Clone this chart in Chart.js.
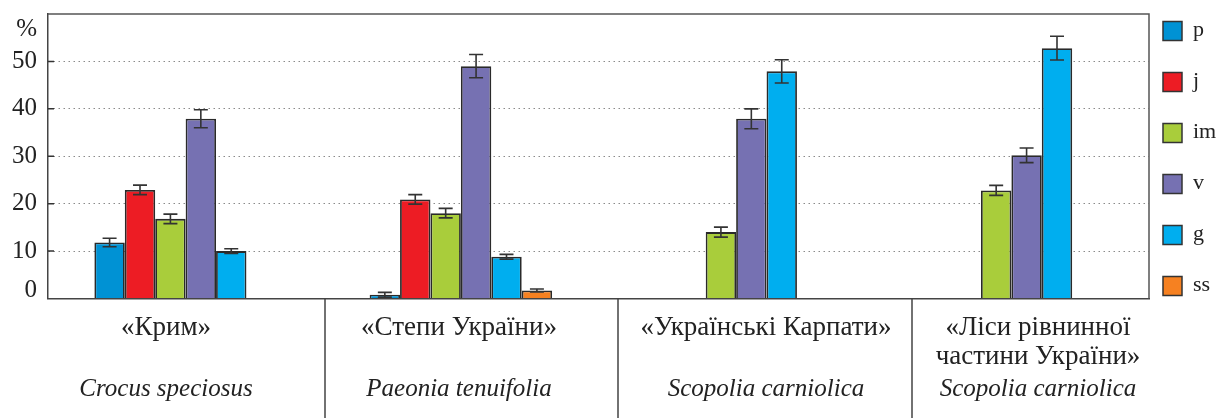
<!DOCTYPE html>
<html>
<head>
<meta charset="utf-8">
<script src="https://cdn.jsdelivr.net/npm/chart.js@4"></script>
<style>
  html, body { margin: 0; padding: 0; background: #fff; }
  #wrap { width: 1222px; height: 418px; position: relative; }
</style>
</head>
<body>
<div id="wrap"><canvas id="myChart"></canvas></div>
<script>
// categories
const regions = ['«Крим»', '«Степи України»', '«Українські Карпати»', ['«Ліси рівнинної', 'частини України»']];
const species = ['Crocus speciosus', 'Paeonia tenuifolia', 'Scopolia carniolica', 'Scopolia carniolica'];

// series (%), with error half-widths
const seriesNames = ['p', 'j', 'im', 'v', 'g', 'ss'];
const pValues  = [11.8, 0.8, null, null];
const jValues  = [22.9, 20.9, null, null];
const imValues = [16.8, 18.0, 14.0, 22.8];
const vValues  = [37.9, 49.0, 37.9, 30.2];
const gValues  = [10.0, 8.8, 47.9, 52.8];
const ssValues = [null, 1.7, null, null];

const pErr  = [0.9, 0.5, 0, 0];
const jErr  = [1.0, 1.0, 0, 0];
const imErr = [1.0, 1.0, 1.05, 1.05];
const vErr  = [1.9, 2.45, 2.1, 1.55];
const gErr  = [0.5, 0.5, 2.45, 2.5];
const ssErr = [0, 0.3, 0, 0];

const yTicks = [0, 10, 20, 30, 40, 50];
const yMax = 60;

const colors = ['#0092d4', '#ed1c24', '#a9cd3b', '#7671b2', '#00aeef', '#f68121'];
const allValues = [pValues, jValues, imValues, vValues, gValues, ssValues];
const allErr = [pErr, jErr, imErr, vErr, gErr, ssErr];

const serif = '"Liberation Serif", "DejaVu Serif", serif';

// error bars on top of each bar
const errorBars = {
    id: 'errorBars',
    afterDatasetsDraw(chart) {
        const ctx = chart.ctx;
        const y = chart.scales.y;
        ctx.save();
        ctx.strokeStyle = '#333';
        ctx.lineWidth = 1.6;
        chart.data.datasets.forEach((ds, i) => {
            const meta = chart.getDatasetMeta(i);
            meta.data.forEach((bar, j) => {
                const v = ds.data[j];
                const e = allErr[i][j];
                if (v == null || !e) return;
                const top = y.getPixelForValue(v + e);
                const bot = y.getPixelForValue(v - e);
                ctx.beginPath();
                ctx.moveTo(bar.x, top); ctx.lineTo(bar.x, bot);
                ctx.moveTo(bar.x - 7, top); ctx.lineTo(bar.x + 7, top);
                ctx.moveTo(bar.x - 7, bot); ctx.lineTo(bar.x + 7, bot);
                ctx.stroke();
            });
        });
        ctx.restore();
    }
};

// frame, table below the axis, legend, extra labels
const decorations = {
    id: 'decorations',
    afterDraw(chart) {
        const ctx = chart.ctx;
        const a = chart.chartArea;
        const y = chart.scales.y;
        ctx.save();

        // frame top + right
        ctx.strokeStyle = '#555';
        ctx.lineWidth = 1.5;
        ctx.beginPath();
        ctx.moveTo(a.left, a.top); ctx.lineTo(a.right, a.top); ctx.lineTo(a.right, a.bottom);
        ctx.stroke();

        // short tick marks inside the axis
        ctx.strokeStyle = '#333';
        ctx.beginPath();
        [10, 20, 30, 40, 50].forEach(t => {
            const py = y.getPixelForValue(t);
            ctx.moveTo(a.left, py); ctx.lineTo(a.left + 6, py);
        });
        ctx.stroke();

        // "%" and "0" labels
        ctx.fillStyle = '#222';
        ctx.font = '25px ' + serif;
        ctx.textAlign = 'right';
        ctx.textBaseline = 'middle';
        ctx.fillText('%', a.left - 11, y.getPixelForValue(yMax) + 15);
        ctx.fillText('0', a.left - 11, y.getPixelForValue(0) - 8);

        // separators of the label table
        ctx.strokeStyle = '#444';
        ctx.lineWidth = 1.5;
        const seps = [325, 618, 912];
        ctx.beginPath();
        seps.forEach(sx => { ctx.moveTo(sx, a.bottom); ctx.lineTo(sx, chart.height); });
        ctx.stroke();

        // region + species labels
        const centers = [166, 459, 766, 1038];
        ctx.textAlign = 'center';
        ctx.fillStyle = '#222';
        regions.forEach((r, i) => {
            const lines = Array.isArray(r) ? r : [r];
            ctx.font = '27px ' + serif;
            lines.forEach((ln, k) => ctx.fillText(ln, centers[i], 328 + k * 29));
            ctx.font = 'italic 25px ' + serif;
            ctx.fillText(species[i], centers[i], 389);
        });

        // legend
        ctx.textAlign = 'left';
        ctx.font = '22px ' + serif;
        chart.data.datasets.forEach((ds, i) => {
            const cy = 31 + i * 51;
            ctx.fillStyle = ds.backgroundColor;
            ctx.fillRect(1163, cy - 9.5, 19, 19);
            ctx.strokeStyle = '#333';
            ctx.lineWidth = 1.5;
            ctx.strokeRect(1163, cy - 9.5, 19, 19);
            ctx.fillStyle = '#222';
            ctx.fillText(ds.label, 1193, cy - 1);
        });
        ctx.restore();
    }
};

const config = {
    type: 'bar',
    data: {
        labels: regions,
        datasets: seriesNames.map((name, i) => ({
            label: name,
            data: allValues[i],
            backgroundColor: colors[i],
            borderColor: '#2a2a2a',
            borderWidth: 1.8,
            categoryPercentage: 0.663,
            barPercentage: 1.0
        }))
    },
    options: {
        responsive: true,
        maintainAspectRatio: false,
        animation: false,
        layout: { padding: { top: 14, right: 73, left: 0, bottom: 0 } },
        plugins: {
            legend: { display: false },
            tooltip: { enabled: false }
        },
        scales: {
            x: {
                grid: { display: false },
                ticks: { display: false },
                border: { color: '#444', width: 1.5 },
                afterFit: s => { s.height = 119.5; s.paddingLeft = 0; s.paddingRight = 0; }
            },
            y: {
                min: 0,
                max: yMax,
                afterBuildTicks: s => { s.ticks = yTicks.concat([yMax]).map(v => ({ value: v })); },
                ticks: {
                    padding: 11,
                    color: '#222',
                    font: { family: serif, size: 25 },
                    callback: v => (v === 0 || v === yMax) ? '' : v
                },
                grid: {
                    drawTicks: false,
                    color: c => (c.tick && (c.tick.value === 0 || c.tick.value === yMax)) ? 'rgba(0,0,0,0)' : '#8a8a8a',
                    lineWidth: 1
                },
                border: { color: '#444', width: 1.5, dash: [1.5, 3.5] },
                afterFit: s => { s.width = 48; s.paddingTop = 0; s.paddingBottom = 0; }
            }
        }
    },
    plugins: [errorBars, decorations]
};

const myChart = new Chart(document.getElementById('myChart'), config);
</script>
</body>
</html>
